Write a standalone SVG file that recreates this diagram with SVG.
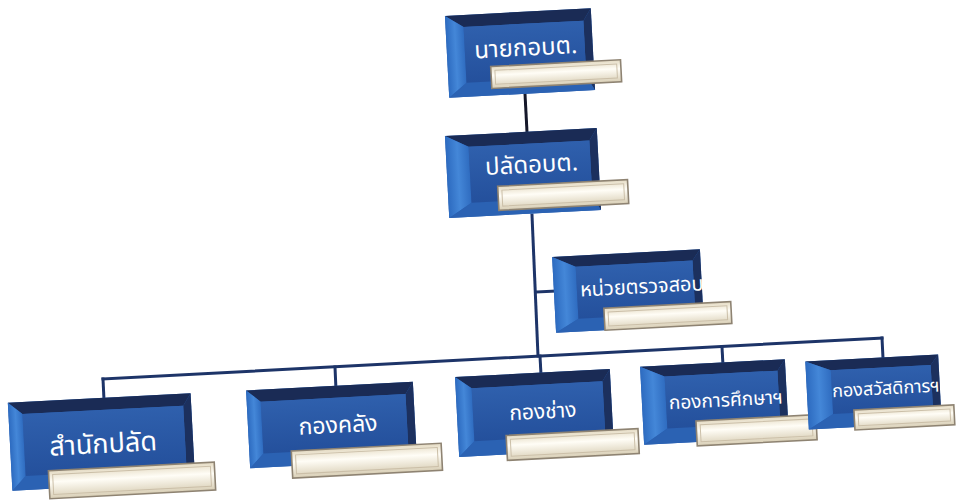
<svg xmlns="http://www.w3.org/2000/svg" width="957" height="502" viewBox="0 0 957 502">
<defs>
<linearGradient id="face" x1="0" y1="0" x2="0" y2="1">
<stop offset="0" stop-color="#2f60ad"/>
<stop offset="1" stop-color="#24509c"/>
</linearGradient>
<linearGradient id="bar" x1="0" y1="0" x2="0" y2="1">
<stop offset="0" stop-color="#e4dac2"/>
<stop offset="0.4" stop-color="#fffdf6"/>
<stop offset="1" stop-color="#d9cfb6"/>
</linearGradient>
<linearGradient id="left" x1="0" y1="0" x2="1" y2="0">
<stop offset="0" stop-color="#2d6bc0"/>
<stop offset="0.5" stop-color="#4487d8"/>
<stop offset="1" stop-color="#2f6cc0"/>
</linearGradient>
</defs>
<style>
.top{fill:#1a2b55}
.rgt{fill:#1c305e}
.lft{fill:url(#left)}
.bot{fill:#2b62b3}
.face{fill:url(#face)}
.bar{fill:url(#bar);stroke:#8e8372;stroke-width:1.6}
.bari{fill:none;stroke:#cbbfa8;stroke-width:1}
.lbl{fill:#ffffff;font-family:"Noto Sans Thai","Noto Sans","DejaVu Sans","Liberation Sans",sans-serif;text-anchor:middle}
.con{fill:none;stroke:#1d3468;stroke-width:3;stroke-linecap:square}
</style>
<rect width="957" height="502" fill="#ffffff"/>
<g id="connectors">
<line class="con" x1="525" y1="94" x2="527" y2="132" style="stroke:#15182a"/>
<line class="con" x1="532" y1="215" x2="538" y2="356"/>
<line class="con" x1="537" y1="292" x2="555" y2="291"/>
<line class="con" x1="103" y1="379" x2="882" y2="338"/>
<line class="con" x1="103" y1="379" x2="104" y2="400"/>
<line class="con" x1="335" y1="367" x2="336" y2="390"/>
<line class="con" x1="540" y1="356" x2="541" y2="375"/>
<line class="con" x1="722" y1="347" x2="723" y2="366"/>
<line class="con" x1="882" y1="338" x2="883" y2="358"/>
</g>
<!-- node template: box x,y,w,h ; a=left band, b=top, c=right, d=bottom -->
<g id="n1" transform="rotate(-3 520 53)">
<rect x="447" y="12" width="146" height="82" class="bot"/>
<polygon class="top" points="447,12 593,12 585,24 465,24"/>
<polygon class="rgt" points="593,12 593,94 585,80 585,24"/>
<polygon class="lft" points="447,12 465,24 465,80 447,94"/>
<polygon class="bot" points="447,94 465,80 585,80 593,94"/>
<rect x="465" y="24" width="120" height="56" class="face"/>
<text class="lbl" x="526" y="56" font-size="24">นายกอบต.</text>
<rect x="490" y="65" width="130" height="22" class="bar"/>
<rect x="494" y="69" width="122" height="14" class="bari"/>
</g>
<g id="n2" transform="rotate(-3 523 173)">
<rect x="447" y="132" width="152" height="82" class="bot"/>
<polygon class="top" points="447,132 599,132 591,144 470,144"/>
<polygon class="rgt" points="599,132 599,214 591,200 591,144"/>
<polygon class="lft" points="447,132 470,144 470,200 447,214"/>
<polygon class="bot" points="447,214 470,200 591,200 599,214"/>
<rect x="470" y="144" width="121" height="56" class="face"/>
<text class="lbl" x="532" y="173" font-size="24">ปลัดอบต.</text>
<rect x="497" y="185" width="130" height="24" class="bar"/>
<rect x="501" y="189" width="122" height="16" class="bari"/>
</g>
<g id="n3" transform="rotate(-3 628 291)">
<rect x="554" y="253" width="148" height="76" class="bot"/>
<polygon class="top" points="554,253 702,253 694,264 577,264"/>
<polygon class="rgt" points="702,253 702,329 694,316 694,264"/>
<polygon class="lft" points="554,253 577,264 577,316 554,329"/>
<polygon class="bot" points="554,329 577,316 694,316 702,329"/>
<rect x="577" y="264" width="117" height="52" class="face"/>
<text class="lbl" x="642" y="294" font-size="20">หน่วยตรวจสอบ</text>
<rect x="603" y="307" width="127" height="22" class="bar"/>
<rect x="607" y="311" width="119" height="14" class="bari"/>
</g>
<g id="n4" transform="rotate(-3 101 442)">
<rect x="10" y="398" width="183" height="88" class="bot"/>
<polygon class="top" points="10,398 193,398 185,410 24,410"/>
<polygon class="rgt" points="193,398 193,486 185,472 185,410"/>
<polygon class="lft" points="10,398 24,410 24,472 10,486"/>
<polygon class="bot" points="10,486 24,472 185,472 193,486"/>
<rect x="24" y="410" width="161" height="62" class="face"/>
<text class="lbl" x="103" y="453" font-size="27">สำนักปลัด</text>
<rect x="47" y="468" width="166" height="28" class="bar"/>
<rect x="51" y="472" width="158" height="20" class="bari"/>
</g>
<g id="n5" transform="rotate(-3 331 425)">
<rect x="248" y="386" width="167" height="78" class="bot"/>
<polygon class="top" points="248,386 415,386 407,398 262,398"/>
<polygon class="rgt" points="415,386 415,464 407,450 407,398"/>
<polygon class="lft" points="248,386 262,398 262,450 248,464"/>
<polygon class="bot" points="248,464 262,450 407,450 415,464"/>
<rect x="262" y="398" width="145" height="52" class="face"/>
<text class="lbl" x="338" y="433" font-size="23">กองคลัง</text>
<rect x="290" y="449" width="150" height="27" class="bar"/>
<rect x="294" y="453" width="142" height="19" class="bari"/>
</g>
<g id="n6" transform="rotate(-3 534 413)">
<rect x="457" y="373" width="155" height="80" class="bot"/>
<polygon class="top" points="457,373 612,373 604,385 473,385"/>
<polygon class="rgt" points="612,373 612,453 604,438 604,385"/>
<polygon class="lft" points="457,373 473,385 473,438 457,453"/>
<polygon class="bot" points="457,453 473,438 604,438 612,453"/>
<rect x="473" y="385" width="131" height="53" class="face"/>
<text class="lbl" x="543" y="419" font-size="21">กองช่าง</text>
<rect x="505" y="434" width="132" height="25" class="bar"/>
<rect x="509" y="438" width="124" height="17" class="bari"/>
</g>
<g id="n7" transform="rotate(-3 714 402)">
<rect x="642" y="363" width="145" height="78" class="bot"/>
<polygon class="top" points="642,363 787,363 779,374 666,374"/>
<polygon class="rgt" points="787,363 787,441 779,426 779,374"/>
<polygon class="lft" points="642,363 666,374 666,426 642,441"/>
<polygon class="bot" points="642,441 666,426 779,426 787,441"/>
<rect x="666" y="374" width="113" height="52" class="face"/>
<text class="lbl" x="726" y="407" font-size="19">กองการศึกษาฯ</text>
<rect x="695" y="420" width="120" height="25" class="bar"/>
<rect x="699" y="424" width="112" height="17" class="bari"/>
</g>
<g id="n8" transform="rotate(-3 873 392)">
<rect x="807" y="358" width="133" height="68" class="bot"/>
<polygon class="top" points="807,358 940,358 932,368 832,368"/>
<polygon class="rgt" points="940,358 940,426 932,412 932,368"/>
<polygon class="lft" points="807,358 832,368 832,412 807,426"/>
<polygon class="bot" points="807,426 832,412 932,412 940,426"/>
<rect x="832" y="368" width="100" height="44" class="face"/>
<text class="lbl" x="886" y="395" font-size="18">กองสวัสดิการฯ</text>
<rect x="853" y="409" width="100" height="20" class="bar"/>
<rect x="857" y="413" width="92" height="12" class="bari"/>
</g>
</svg>
